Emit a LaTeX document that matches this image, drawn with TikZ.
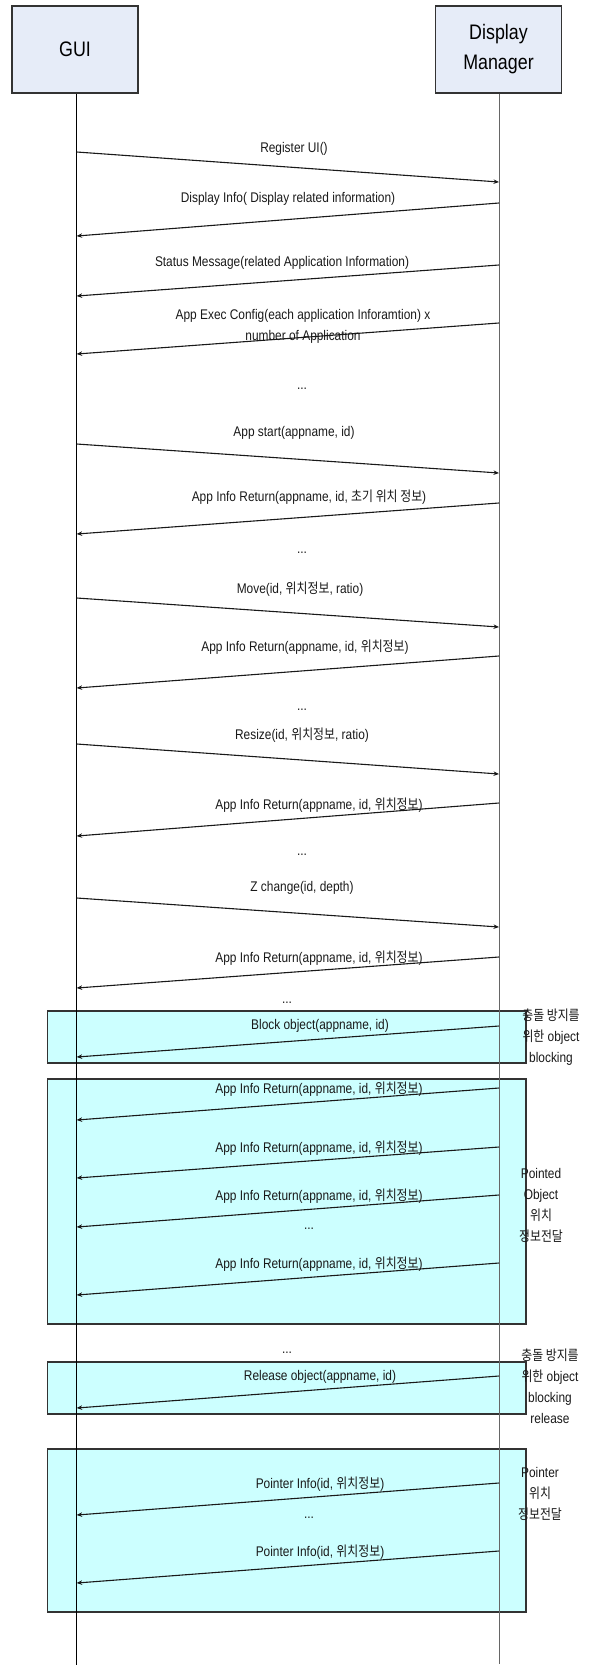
\documentclass[tikz,border=0pt]{standalone}
\usepackage{fontspec}
\setmainfont[FakeStretch=0.85]{Liberation Sans}
\newfontfamily\kr[FakeStretch=0.85]{Noto Sans CJK KR}
\newcommand{\ko}[1]{{\kr #1}}
\usetikzlibrary{arrows.meta}

\begin{document}
\begin{tikzpicture}[
    x=1pt, y=-1pt, >={Stealth[length=5.5pt,width=4.5pt]},
    actor/.style={rectangle, draw=black!80, line width=1.2pt, fill=actorblue, minimum width=126pt, minimum height=87pt, align=center, font=\fontsize{21}{30}\selectfont},
    life/.style={line width=1pt},
    msg/.style={->, line width=1.1pt, draw=black!90},
    txt/.style={font=\fontsize{14}{21}\selectfont, text=black!90, inner sep=0pt, align=center},
    frame/.style={draw=black!80, line width=1.2pt, fill=framecyan},
    every edge/.style={draw, msg}
]
\definecolor{actorblue}{RGB}{230,236,248}
\definecolor{framecyan}{RGB}{204,255,255}
\useasboundingbox (0,0) rectangle (589,1666);

% Highlight frames (behind everything)
\path[frame] (47.5,1011) rectangle (526,1063);
\path[frame] (47.5,1079) rectangle (526,1324);
\path[frame] (47.5,1362) rectangle (526,1414);
\path[frame] (47.5,1449) rectangle (526,1612);

% Actors
\node[actor] (gui) at (75,49.5) {GUI};
\node[actor] (dm) at (498.5,49.5) {Display\\Manager};

% Lifelines
\coordinate (guiEnd) at (76.7,1665);
\coordinate (dmEnd) at (499,1664);
\draw[life] (gui.south -| guiEnd) -- (guiEnd);
\draw[life, draw=black!60] (dm.south -| dmEnd) -- (dmEnd);

% Points on the GUI lifeline
\coordinate (g1) at (76.7,152);
\coordinate (g2) at (76.7,236);
\coordinate (g3) at (76.7,296);
\coordinate (g4) at (76.7,354);
\coordinate (g5) at (76.7,444);
\coordinate (g6) at (76.7,534);
\coordinate (g7) at (76.7,598);
\coordinate (g8) at (76.7,688);
\coordinate (g9) at (76.7,744);
\coordinate (g10) at (76.7,836);
\coordinate (g11) at (76.7,898);
\coordinate (g12) at (76.7,988);
\coordinate (g13) at (76.7,1057);
\coordinate (g14) at (76.7,1120);
\coordinate (g15) at (76.7,1178);
\coordinate (g16) at (76.7,1227);
\coordinate (g17) at (76.7,1295);
\coordinate (g18) at (76.7,1408);
\coordinate (g19) at (76.7,1515);
\coordinate (g20) at (76.7,1583);

% Points on the Display Manager lifeline
\coordinate (d1) at (499,182);
\coordinate (d2) at (499,203);
\coordinate (d3) at (499,265);
\coordinate (d4) at (499,323);
\coordinate (d5) at (499,473);
\coordinate (d6) at (499,503);
\coordinate (d7) at (499,627);
\coordinate (d8) at (499,656);
\coordinate (d9) at (499,774);
\coordinate (d10) at (499,803);
\coordinate (d11) at (499,927);
\coordinate (d12) at (499,957);
\coordinate (d13) at (499,1026);
\coordinate (d14) at (499,1088);
\coordinate (d15) at (499,1147);
\coordinate (d16) at (499,1195);
\coordinate (d17) at (499,1263);
\coordinate (d18) at (499,1376);
\coordinate (d19) at (499,1483);
\coordinate (d20) at (499,1551);

% Registration and initial information
\path (g1) edge (d1);
\path (d2) edge (g2);
\path (d3) edge (g3);
\path (d4) edge (g4);
\node[txt] (l1) at (294,149) {Register UI()};
\node[txt] (l2) at (288,199) {Display Info( Display related information)};
\node[txt] (l3) at (282,263) {Status Message(related Application Information)};
\node[txt] (l4) at (303,326.5) {App Exec Config(each application Inforamtion) x\\number of Application};
\node[txt] (dots1) at (302,389) {...};

% Application start
\path (g5) edge (d5);
\path (d6) edge (g6);
\node[txt] (l5) at (294,433) {App start(appname, id)};
\node[txt] (l6) at (309,497) {App Info Return(appname, id, \ko{초기 위치 정보})};
\node[txt] (dots2) at (302,553) {...};

% Move
\path (g7) edge (d7);
\path (d8) edge (g8);
\node[txt] (l7) at (300,589) {Move(id, \ko{위치정보}, ratio)};
\node[txt] (l8) at (305,647) {App Info Return(appname, id, \ko{위치정보})};
\node[txt] (dots3) at (302,710) {...};

% Resize
\path (g9) edge (d9);
\path (d10) edge (g10);
\node[txt] (l9) at (302,735) {Resize(id, \ko{위치정보}, ratio)};
\node[txt] (l10) at (319,805) {App Info Return(appname, id, \ko{위치정보})};
\node[txt] (dots4) at (302,855) {...};

% Z order change
\path (g11) edge (d11);
\path (d12) edge (g12);
\node[txt] (l11) at (302,888) {Z change(id, depth)};
\node[txt] (l12) at (319,958) {App Info Return(appname, id, \ko{위치정보})};
\node[txt] (dots5) at (287,1003) {...};

% Blocking
\path (d13) edge (g13);
\node[txt] (l13) at (320,1026) {Block object(appname, id)};
\node[txt] (note1) at (551,1037) {\ko{충돌 방지를}\\\ko{위한} object\\blocking};

% Pointed object position
\path (d14) edge (g14);
\path (d15) edge (g15);
\path (d16) edge (g16);
\path (d17) edge (g17);
\node[txt] (l14) at (319,1089) {App Info Return(appname, id, \ko{위치정보})};
\node[txt] (l15) at (319,1148) {App Info Return(appname, id, \ko{위치정보})};
\node[txt] (l16) at (319,1196) {App Info Return(appname, id, \ko{위치정보})};
\node[txt] (dots6) at (309,1229) {...};
\node[txt] (l17) at (319,1264) {App Info Return(appname, id, \ko{위치정보})};
\node[txt] (note2) at (541,1205.5) {Pointed\\Object\\\ko{위치}\\\ko{정보전달}};

% Release
\node[txt] (dots7) at (287,1353) {...};
\path (d18) edge (g18);
\node[txt] (l18) at (320,1377) {Release object(appname, id)};
\node[txt] (note3) at (550,1386) {\ko{충돌 방지를}\\\ko{위한} object\\blocking\\release};

% Pointer position
\path (d19) edge (g19);
\path (d20) edge (g20);
\node[txt] (l19) at (320,1484) {Pointer Info(id, \ko{위치정보})};
\node[txt] (dots8) at (309,1518) {...};
\node[txt] (l20) at (320,1552) {Pointer Info(id, \ko{위치정보})};
\node[txt] (note4) at (540,1494) {Pointer\\\ko{위치}\\\ko{정보전달}};

\end{tikzpicture}
\end{document}
